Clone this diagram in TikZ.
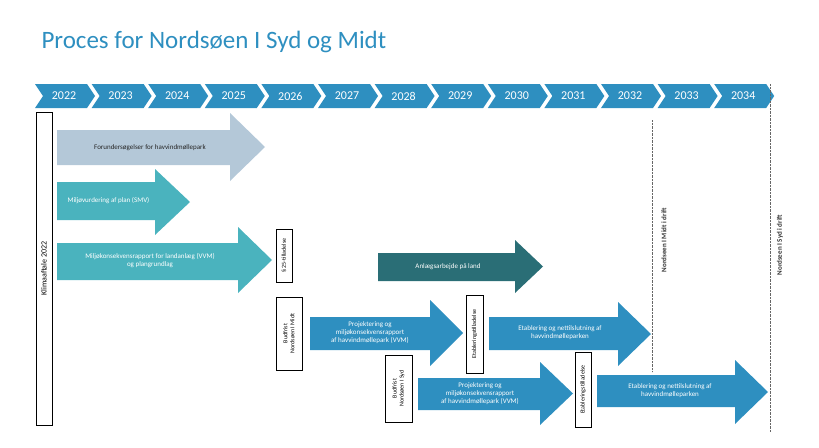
\documentclass[tikz,border=0pt]{standalone}
\usepackage{fontspec}
\setmainfont{Carlito}
\usetikzlibrary{positioning}
\definecolor{tlblue}{HTML}{2E8FC0}
\definecolor{lightarr}{HTML}{B4C8D8}
\definecolor{tealarr}{HTML}{4AB3BE}
\definecolor{darkarr}{HTML}{2A6E76}
\tikzset{
  year/.style={text=white,font=\fontsize{12}{12}\selectfont},
  milestone/.style={draw,thin,fill=white,rotate=90,font=\fontsize{6}{7}\selectfont,align=center,inner sep=1.5pt},
  arrtext/.style={font=\fontsize{7}{8}\selectfont,align=center,text=white},
  drift/.style={rotate=90,font=\bfseries\fontsize{7}{8}\selectfont,text=black!80},
}
% block arrow: colour, x start, x head base, x tip, body top, body bottom, head top, head bottom
\newcommand\blockarrow[8]{%
  \fill[#1] (#2,#5) -- (#3,#5) -- (#3,#7) -- (#4,{(#7+#8)/2}) -- (#3,#8) -- (#3,#6) -- (#2,#6) -- cycle;}
\begin{document}
\begin{tikzpicture}[x=1pt,y=-1pt]
	\useasboundingbox (0,0) rectangle (819,447);
	\node[anchor=west,text=tlblue,font=\fontsize{25}{25}\selectfont] (title) at (38,42) {Proces for Nordsøen I Syd og Midt};
	% timeline
	\foreach \yr [count=\i from 0] in {2022,...,2034} {
		\pgfmathsetmacro{\xa}{35+56.6*\i}
		\fill[tlblue] (\xa,84) -- (\xa+52,84) -- (\xa+60,96) -- (\xa+52,108) -- (\xa,108) -- (\xa+8,96) -- cycle;
		\node[year] (y\yr) at (\xa+29,96) {\yr};
	}
	% operation lines
	\draw[densely dotted,black!60] (652,120) -- (652,372);
	\draw[densely dotted,black!60] (770,84) -- (770,432);
	\node[drift] (midt) at (664,240) {Nordseen I Midt i drift};
	\node[drift] (syd) at (780,245) {Nordseen I Syd i drift};
	% klimaaftale
	\node[draw,thin,rotate=90,minimum width=313pt,minimum height=16pt,inner sep=0pt,font=\fontsize{8}{8}\selectfont] (klima) at (44,268.5) {Klimaaftale 2022};
	% arrows
	\blockarrow{lightarr}{57}{230}{265}{130}{165}{113}{181}
	\node[arrtext,text=black!85] (forund) at (150,147.5) {Forundersøgelser for havvindmøllepark};
	\blockarrow{tealarr}{57}{155}{190}{182}{220}{169}{235}
	\node[arrtext,anchor=west] (smv) at (64,201) {Miljøvurdering af plan (SMV)};
	\blockarrow{tealarr}{57}{238}{272}{243}{280}{227}{293}
	\node[arrtext] (vvm1) at (150,261) {Miljøkonsekvensrapport for landanlæg (VVM)\\og plangrundlag};
	\blockarrow{darkarr}{378}{515}{543}{253}{281}{240}{293}
	\node[arrtext] (anlaeg) at (448,267) {Anlægsarbejde på land};
	\blockarrow{tlblue}{310}{430}{463}{317}{350}{300}{366}
	\node[arrtext] (projm) at (370,333) {Projektering og\\miljøkonsekvensrapport\\af havvindmøllepark (VVM)};
	\blockarrow{tlblue}{489}{618}{651}{317}{350}{302}{366}
	\node[arrtext] (etabm) at (560,333) {Etablering og nettilslutning af\\havvindmølleparken};
	\blockarrow{tlblue}{418}{540}{573}{378}{410}{362}{425}
	\node[arrtext] (projs) at (480,394) {Projektering og\\miljøkonsekvensrapport\\af havvindmøllepark (VVM)};
	\blockarrow{tlblue}{597}{735}{768}{375}{407}{360}{424}
	\node[arrtext] (etabs) at (670,391) {Etablering og nettilslutning af\\havvindmølleparken};
	% milestones
	\node[milestone,minimum width=53pt,minimum height=16pt] (p25) at (284,255.5) {§ 25-tilladelse};
	\node[milestone,minimum width=73pt,minimum height=26pt] (budm) at (289,333.5) {Budfrist\\Nordsøen I Midt};
	\node[milestone,minimum width=78pt,minimum height=17pt] (etm) at (474.5,334) {Etableringstilladelse};
	\node[milestone,minimum width=67pt,minimum height=27pt] (buds) at (398.5,388.5) {Budfrist\\Nordsøen I Syd};
	\node[milestone,minimum width=75pt,minimum height=16pt] (ets) at (583,389.5) {Etableringstilladelse};
\end{tikzpicture}
\end{document}
